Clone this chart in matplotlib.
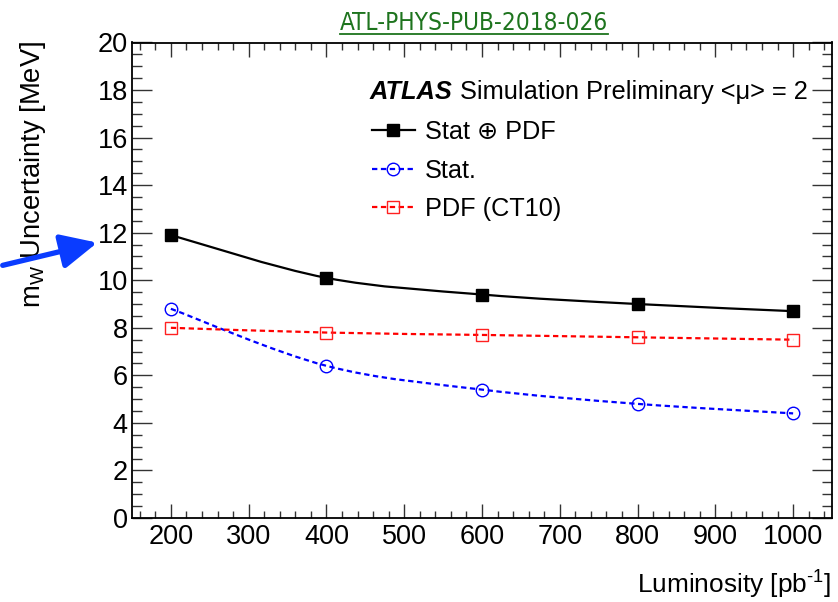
import numpy as np
import matplotlib
matplotlib.use("Agg")
import matplotlib.pyplot as plt
from matplotlib.path import Path
from matplotlib.patches import PathPatch, FancyArrowPatch
from matplotlib.lines import Line2D
from matplotlib.ticker import MultipleLocator

plt.rcParams["font.family"] = ["Liberation Sans", "DejaVu Sans"]
plt.rcParams["mathtext.fontset"] = "custom"
plt.rcParams["mathtext.rm"] = "Liberation Sans"
plt.rcParams["mathtext.it"] = "Liberation Sans:italic"

# values
lumi = [200, 400, 600, 800, 1000]
stat_pdf = [11.9, 10.1, 9.4, 9.0, 8.7]
stat = [8.8, 6.4, 5.4, 4.8, 4.4]
pdf = [8.0, 7.8, 7.7, 7.6, 7.5]

labels = ["Stat \u2295 PDF", "Stat.", "PDF (CT10)"]
note_tag = "ATL-PHYS-PUB-2018-026"


def smooth_path(x, y):
    # Catmull-Rom through the points, written as cubic Bezier segments
    p = np.column_stack([x, y]).astype(float)
    ext = np.vstack([p[0], p, p[-1]])
    verts = [p[0]]
    codes = [Path.MOVETO]
    for i in range(len(p) - 1):
        p0, p1, p2, p3 = ext[i], ext[i + 1], ext[i + 2], ext[i + 3]
        verts += [p1 + (p2 - p0) / 6.0, p2 - (p3 - p1) / 6.0, p2]
        codes += [Path.CURVE4] * 3
    return Path(verts, codes)


fig = plt.figure(figsize=(8.38, 6.02), dpi=100)
ax = fig.add_axes([132 / 838, 1 - 518 / 602, 700 / 838, 475.5 / 602])

dash = (0, (2.4, 1.6))
styles = [
    dict(color="black", ls="-", marker="s", mfc="black", mec="black", ms=8.5),
    dict(color="#0000ff", ls=dash, marker="o", mfc="none", mec="#0000ff", ms=9),
    dict(color="#ff0000", ls=dash, marker="s", mfc="none", mec="#ff2020", ms=9),
]

handles = []
for yv, st, lab in zip([stat_pdf, stat, pdf], styles, labels):
    patch = PathPatch(smooth_path(lumi, yv), fill=False, edgecolor=st["color"],
                      lw=1.6, ls=st["ls"], zorder=3)
    ax.add_patch(patch)
    ax.plot(lumi, yv, ls="none", marker=st["marker"], ms=st["ms"],
            mfc=st["mfc"], mec=st["mec"], mew=1.0, zorder=4)
    handles.append(Line2D([], [], color=st["color"], ls=st["ls"], lw=1.6,
                          marker=st["marker"], ms=st["ms"], mfc=st["mfc"],
                          mec=st["mec"], mew=1.0, label=lab))

ax.set_xlim(150, 1050)
ax.set_ylim(0, 20)
ax.xaxis.set_major_locator(MultipleLocator(100))
ax.xaxis.set_minor_locator(MultipleLocator(20))
ax.yaxis.set_major_locator(MultipleLocator(2))
ax.yaxis.set_minor_locator(MultipleLocator(0.5))
ax.tick_params(which="both", direction="in", top=True, right=True,
               width=1.0, color="#333333", labelsize=19.5)
ax.tick_params(axis="x", which="major", length=10, pad=4)
ax.tick_params(axis="x", which="minor", length=5)
ax.tick_params(axis="y", which="major", length=14.5, pad=3)
ax.tick_params(axis="y", which="minor", length=7.5)
for sp in ax.spines.values():
    sp.set_linewidth(1.3)

leg = ax.legend(handles=handles, loc="upper left",
                bbox_to_anchor=(3.72, (602 - 120) / 100),
                bbox_transform=fig.dpi_scale_trans, frameon=False,
                fontsize=18.2, handlelength=1.7, handletextpad=0.4,
                labelspacing=0.58, borderpad=0, borderaxespad=0, numpoints=1)

atlas = fig.text(3.70, (602 - 104) / 100, "ATLAS", transform=fig.dpi_scale_trans,
                 fontsize=18.3, fontweight="bold", fontstyle="italic", va="bottom")
ax.annotate("Simulation Preliminary <\u03bc> = 2", xy=(1, 0), xycoords=atlas,
            xytext=(5, 0), textcoords="offset points", fontsize=18.3, va="bottom",
            annotation_clip=False)

fig.text(33 / 838, 1 - 41 / 602, "m$_{\\rm W}$ Uncertainty [MeV]", rotation=90,
         ha="center", va="top", fontsize=19.7)
fig.text(831 / 838, 1 - 594 / 602, "Luminosity [pb$^{\\text{-1}}$]", ha="right",
         va="baseline", fontsize=18.9)

green = "#1e741e"
title = fig.text(474 / 838, 1 - 30 / 602, note_tag, ha="center", va="baseline",
                 fontsize=17.5, color=green, fontstretch="condensed",
                 family=["Liberation Sans Narrow", "DejaVu Sans"])

fig.canvas.draw()
bb = title.get_window_extent().transformed(fig.transFigure.inverted())
y_ul = 1 - 33.5 / 602
fig.add_artist(Line2D([bb.x0, bb.x1], [y_ul, y_ul], color=green, lw=1.3,
                      transform=fig.transFigure))

arrow = FancyArrowPatch((0.0, (602 - 266) / 100), (1.00, (602 - 242) / 100),
                        transform=fig.dpi_scale_trans,
                        arrowstyle="-|>,head_length=1.05,head_width=0.5",
                        mutation_scale=21, lw=3.8, color="#0a3cff", zorder=10)
fig.add_artist(arrow)

fig.savefig("out.png", dpi=100)
